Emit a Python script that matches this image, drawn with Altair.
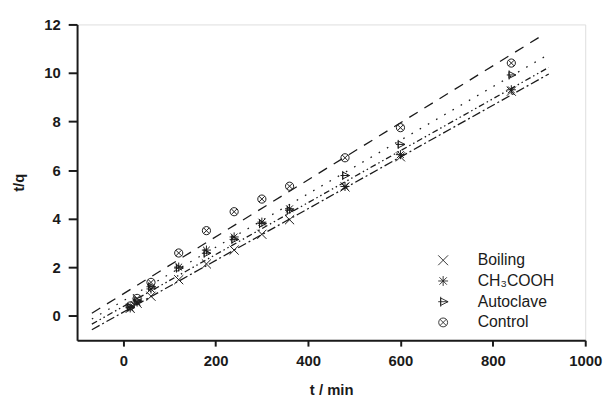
import altair as alt
import pandas as pd

series = ["Boiling", "CH₃COOH", "Autoclave", "Control"]
times = [15, 30, 60, 120, 180, 240, 300, 360, 480, 600, 840]
boiling = [0.31, 0.52, 0.81, 1.49, 2.14, 2.71, 3.36, 3.96, 5.31, 6.55, 9.25]
ch3cooh = [0.33, 0.57, 1.11, 2.01, 2.71, 3.25, 3.86, 4.41, 5.33, 6.64, 9.31]
autoclave = [0.36, 0.62, 1.20, 1.97, 2.58, 3.15, 3.80, 4.35, 5.78, 7.06, 9.92]
control = [0.41, 0.72, 1.38, 2.59, 3.51, 4.29, 4.81, 5.34, 6.51, 7.75, 10.41]

# fitted lines: intercept, slope, start and end t
intercepts = [0.154, 0.387, 0.62, 0.908]
slopes = [0.010647, 0.010688, 0.01102, 0.011734]
line_t0 = [-68, -68, -68, -68]
line_t1 = [921, 921, 921, 901]

x_ticks = [0, 200, 400, 600, 800, 1000]
y_ticks = [0, 2, 4, 6, 8, 10, 12]

shape_paths = [
    "M-1,-1L1,1M1,-1L-1,1",
    "M-1,0L1,0M0,-1L0,1M-0.75,-0.75L0.75,0.75M0.75,-0.75L-0.75,0.75",
    "M-0.5,-0.75L1,0L-0.5,0.75ZM-1,0L1,0M-0.5,-1L-0.5,1",
    "M0.9,0A0.9,0.9 0 1,1 -0.9,0A0.9,0.9 0 1,1 0.9,0ZM-0.64,-0.64L0.64,0.64M0.64,-0.64L-0.64,0.64",
]
dashes = [[9, 3, 2, 3], [6, 3, 1.5, 3, 1.5, 3], [1.6, 8], [10, 8]]

vals = [boiling, ch3cooh, autoclave, control]
pts = pd.DataFrame(
    [{"series": s, "t": t, "tq": v} for s, vs in zip(series, vals) for t, v in zip(times, vs)]
)
lines = pd.DataFrame(
    [
        {"fit": s, "t": t, "tq": b + m * t, "order": k}
        for s, b, m, a, e in zip(series, intercepts, slopes, line_t0, line_t1)
        for k, t in enumerate([a, e])
    ]
)

font = "Liberation Sans"
ink = "#1a1a1a"
xscale = alt.Scale(domain=[-100, 1000], nice=False, zero=False)
yscale = alt.Scale(domain=[-1, 12], nice=False, zero=False)

x_axis = alt.Axis(
    values=x_ticks, format="d", grid=False, tickSize=6, tickWidth=2, domainWidth=2,
    domainColor=ink, tickColor=ink, labelFont=font, labelFontSize=15,
    labelFontWeight="bold", labelColor=ink, labelPadding=8, labelFlush=False,
    title="t / min", titleFont=font, titleFontSize=15, titleFontWeight="bold",
    titleColor=ink, titlePadding=14,
)
y_axis = alt.Axis(
    values=y_ticks, grid=False, tickSize=9, tickWidth=2, domainWidth=2,
    domainColor=ink, tickColor=ink, labelFont=font, labelFontSize=15,
    labelFontWeight="bold", labelColor=ink, labelPadding=8, labelFlush=False,
    title="t/q", titleFont=font, titleFontSize=15, titleFontWeight="bold",
    titleColor=ink, titlePadding=18,
)

line_layer = alt.Chart(lines).mark_line(color=ink, strokeWidth=1.3).encode(
    x=alt.X("t:Q", scale=xscale, axis=x_axis),
    y=alt.Y("tq:Q", scale=yscale, axis=y_axis),
    strokeDash=alt.StrokeDash(
        "fit:N", scale=alt.Scale(domain=series, range=dashes), legend=None
    ),
    order="order:Q",
)

point_layer = alt.Chart(pts).mark_point(
    filled=False, color="#1a1a1a", strokeWidth=1, size=85, opacity=1
).encode(
    x=alt.X("t:Q", scale=xscale),
    y=alt.Y("tq:Q", scale=yscale),
    shape=alt.Shape(
        "series:N",
        scale=alt.Scale(domain=series, range=shape_paths),
        legend=alt.Legend(
            title=None, orient="none", legendX=363, legendY=231, padding=0,
            labelFont=font, labelFontSize=16, labelColor=ink, labelOffset=27,
            symbolSize=100, symbolStrokeColor="#222222", symbolFillColor="transparent",
            symbolStrokeWidth=0.9, rowPadding=5,
        ),
    ),
)

chart = (
    alt.layer(line_layer, point_layer)
    .resolve_scale(strokeDash="independent", shape="independent")
    .properties(
        width=515, height=320,
        autosize=alt.AutoSizeParams(type="none"),
        padding={"left": 70, "top": 14, "right": 18, "bottom": 62},
    )
    .configure_view(stroke=None)
    .configure(background="white")
)

chart.save("out.html", embed_options={"renderer": "svg", "actions": False})
